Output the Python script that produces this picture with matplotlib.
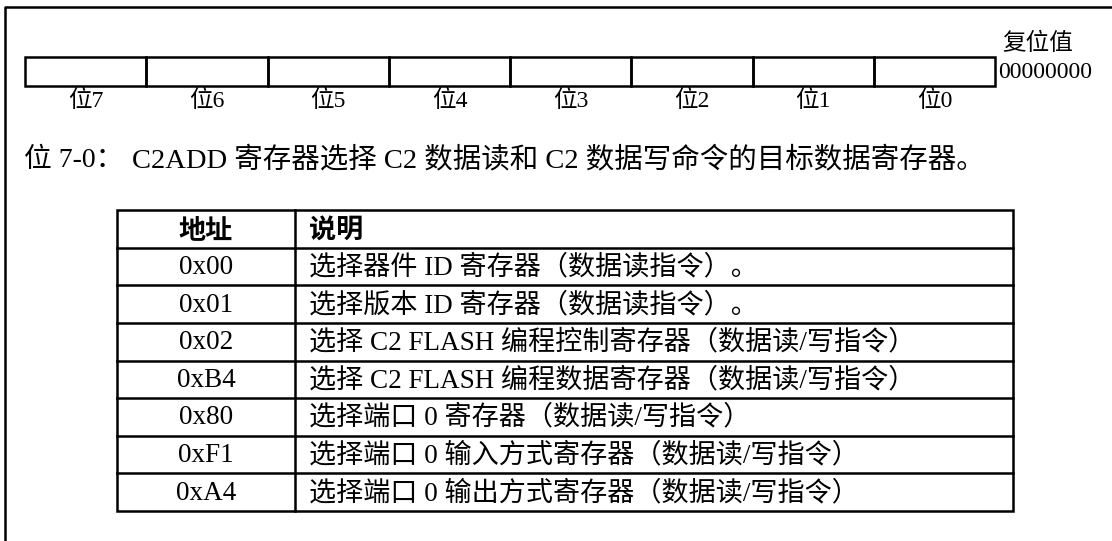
import matplotlib.pyplot as plt
from matplotlib.patches import Rectangle

plt.rcParams['font.family'] = ['Liberation Serif', 'Noto Sans CJK SC', 'DejaVu Sans']

# register layout data
bit_labels = ['位7', '位6', '位5', '位4', '位3', '位2', '位1', '位0']
reset_title = '复位值'
reset_value = '00000000'
desc_label = '位 7-0：'
desc_text = 'C2ADD 寄存器选择 C2 数据读和 C2 数据写命令的目标数据寄存器。'

# table data
header = ['地址', '说明']
addresses = ['0x00', '0x01', '0x02', '0xB4', '0x80', '0xF1', '0xA4']
notes = [
    '选择器件 ID 寄存器（数据读指令）。',
    '选择版本 ID 寄存器（数据读指令）。',
    '选择 C2 FLASH 编程控制寄存器（数据读/写指令）',
    '选择 C2 FLASH 编程数据寄存器（数据读/写指令）',
    '选择端口 0 寄存器（数据读/写指令）',
    '选择端口 0 输入方式寄存器（数据读/写指令）',
    '选择端口 0 输出方式寄存器（数据读/写指令）',
]

W, H = 1112, 541
fig = plt.figure(figsize=(W / 100, H / 100), dpi=100)
ax = fig.add_axes([0, 0, 1, 1])
ax.set_xlim(0, W)
ax.set_ylim(H, 0)
ax.axis('off')

# outer frame (left and top)
ax.plot([5, 5, W], [H, 7, 7], color='black', lw=1.8, solid_capstyle='butt')

# register bit boxes
box_x0, box_x1, box_y0, box_y1 = 25, 995, 57, 86
cw = (box_x1 - box_x0) / len(bit_labels)
for i, lab in enumerate(bit_labels):
    x = box_x0 + i * cw
    ax.add_patch(Rectangle((x, box_y0), cw, box_y1 - box_y0, fill=False,
                           ec='black', lw=1.8))
    ax.text(x + cw / 2, 101, lab, ha='center', va='center', fontsize=17)

ax.text(1002, 43, reset_title, ha='left', va='center', fontsize=17,
        family=['Noto Sans CJK SC'])
ax.text(998, 72, reset_value, ha='left', va='center', fontsize=17)

# field description
ax.text(24, 160, desc_label, ha='left', va='center', fontsize=20)
ax.text(132, 160, desc_text, ha='left', va='center', fontsize=20.5)

# table
tx0, tx1, tdiv = 117, 1013, 295
ty0, ty1 = 210, 511
rows = [header] + list(zip(addresses, notes))
rh = (ty1 - ty0) / len(rows)
ax.add_patch(Rectangle((tx0, ty0), tx1 - tx0, ty1 - ty0, fill=False, ec='black', lw=1.8))
ax.plot([tdiv, tdiv], [ty0, ty1], color='black', lw=1.8)
for r in range(1, len(rows)):
    y = ty0 + r * rh
    ax.plot([tx0, tx1], [y, y], color='black', lw=1.8)

for r, (a, n) in enumerate(rows):
    yc = ty0 + (r + 0.5) * rh + 1
    if r == 0:
        ax.text((tx0 + tdiv) / 2, yc, a, ha='center', va='center', fontsize=19.5,
                fontweight='bold', family=['Noto Sans CJK SC'])
        ax.text(tdiv + 14, yc, n, ha='left', va='center', fontsize=19.5,
                fontweight='bold', family=['Noto Sans CJK SC'])
    else:
        ax.text((tx0 + tdiv) / 2, yc, a, ha='center', va='center', fontsize=19.5)
        ax.text(tdiv + 14, yc, n, ha='left', va='center', fontsize=19.5)

fig.savefig('out.png', dpi=100)
